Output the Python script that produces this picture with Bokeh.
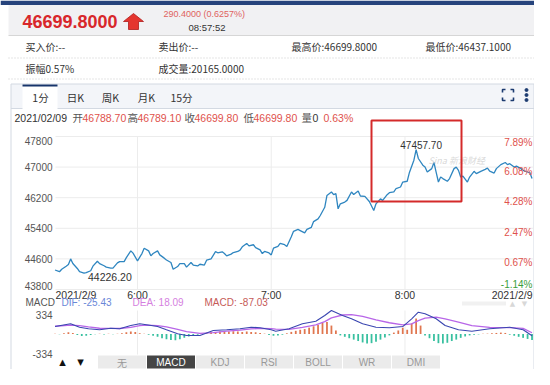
from bokeh.plotting import figure
from bokeh.models import Range1d, ColumnDataSource
from bokeh.core.properties import value
from bokeh.embed import file_html
from bokeh.resources import INLINE

# ---------------- data ----------------
price_times = ["5:23","5:25","5:26","5:28","5:29","5:30","5:31","5:33","5:34","5:36","5:37","5:39","5:40","5:42","5:43","5:45","5:46","5:48","5:49","5:51","5:52","5:54","5:55","5:57","5:58",
               "6:00","6:02","6:03","6:05","6:06","6:07","6:09","6:10","6:12","6:13","6:15","6:16","6:18","6:19","6:21","6:22","6:24","6:25","6:27","6:28","6:30","6:31","6:33","6:35","6:36","6:38","6:39","6:40","6:42","6:43","6:45","6:46","6:47","6:49","6:50","6:52","6:53","6:55","6:56","6:57","6:59",
               "7:00","7:01","7:03","7:04","7:06","7:07","7:09","7:10","7:12","7:13","7:15","7:16","7:18","7:19","7:21","7:22","7:24","7:25","7:27","7:28","7:29","7:30","7:31","7:33","7:34","7:36","7:37","7:39","7:40","7:42","7:44","7:46","7:47","7:49","7:50","7:52","7:53","7:55","7:56","7:58","7:59",
               "8:01","8:02","8:04","8:05","8:06","8:08","8:09","8:10","8:12","8:13","8:14","8:15","8:16","8:17","8:19","8:20","8:22","8:23","8:24","8:25","8:26","8:28","8:29","8:31","8:32","8:34","8:36","8:37","8:38","8:40","8:41","8:43","8:45","8:46","8:47","8:49","8:50","8:52","8:53","8:55","8:56","8:57"]
price_values = [44310,44265,44330,44410,44455,44600,44480,44350,44265,44226.2,44240,44290,44410,44540,44475,44420,44385,44360,44360,44495,44530,44530,44635,44810,44750,
                44550,44740,44880,44810,44680,44740,44810,44705,44620,44570,44505,44330,44400,44475,44475,44385,44505,44440,44415,44460,44440,44565,44600,44790,44760,44785,44740,44680,44725,44765,44795,44830,44915,45005,44940,44970,44895,44835,44740,44795,44755,
                44705,44880,44925,45005,44970,44925,45180,45320,45370,45340,45280,45370,45425,45575,45645,45735,45950,46260,46350,46280,46305,45910,46040,46085,46130,46350,46285,46375,46245,46235,46100,45865,46040,46170,46130,46280,46330,46350,46440,46480,46610,
                46630,46860,47180,47457.7,47225,47050,47000,46870,46960,47120,46860,46610,46740,46700,46630,46700,46960,47000,46915,46740,46765,46610,46740,46890,46830,46890,46940,46975,46895,46845,46960,47065,47120,47065,47090,47000,47025,46960,46915,46870,46860,46699.8]

price_ticks = [43800, 44600, 45400, 46200, 47000, 47800]
price_tick_labels = ["43800", "44600", "45400", "46200", "47000", "47800"]
pct_tick_labels = ["-1.14%", "0.67%", "2.47%", "4.28%", "6.08%", "7.89%"]
time_ticks = ["6:00", "7:00", "8:00"]
date_label = "2021/2/9"

line_times = ["5:23","5:30","5:34","5:38","5:43","5:48","5:52","5:57","6:01","6:04","6:09","6:13","6:18","6:22","6:28","6:34","6:40","6:46","6:51","6:55",
              "7:00","7:02","7:08","7:14","7:20","7:24","7:27","7:32","7:36","7:41","7:47","7:53","7:59","8:03","8:06","8:09","8:14","8:18","8:24","8:30","8:38","8:47","8:53","8:57"]
dif_values = [106,145,97,74,60,82,74,121,145,131,106,60,3,-21,-21,50,60,74,97,88,
              60,40,74,145,182,263,334,263,216,145,97,88,106,216,310,287,216,121,60,40,74,97,60,-25.43]
dea_values = [110,125,118,100,82,80,78,95,118,125,120,100,65,35,10,20,40,55,72,80,
              75,68,65,95,130,175,230,270,275,250,200,160,130,145,190,225,240,215,170,120,95,90,80,18.09]

hist_times = ["5:23","5:25","5:27","5:29","5:31","5:33","5:35","5:37","5:39","5:41","5:43","5:45","5:47","5:49","5:51","5:53","5:55","5:57","5:59",
              "6:01","6:03","6:05","6:07","6:09","6:11","6:13","6:15","6:17","6:19","6:21","6:23","6:25","6:27","6:29","6:31","6:33","6:35","6:37","6:39","6:41","6:43","6:45","6:47","6:49","6:51","6:53","6:55","6:57","6:59",
              "7:01","7:03","7:05","7:07","7:09","7:11","7:13","7:15","7:17","7:19","7:21","7:23","7:25","7:27","7:29","7:31","7:33","7:35","7:37","7:39","7:41","7:43","7:45","7:47","7:49","7:51","7:53","7:55","7:57","7:59",
              "8:01","8:03","8:05","8:07","8:09","8:11","8:13","8:15","8:17","8:19","8:21","8:23","8:25","8:27","8:29","8:31","8:33","8:35","8:37","8:39","8:41","8:43","8:45","8:47","8:49","8:51","8:53","8:55","8:57"]
hist_values = [5,-5,10,25,15,-15,-30,-25,-15,-5,5,-8,5,-5,5,10,25,35,30,
               10,5,-10,-25,-40,-60,-75,-85,-90,-75,-55,-35,-20,-10,5,10,25,30,35,30,35,40,35,30,35,30,25,15,5,-15,
               -25,-20,-10,10,30,45,60,70,90,110,130,160,170,120,50,-20,-40,-60,-80,-100,-120,-135,-130,-110,-80,-50,-20,20,50,90,
               60,150,220,120,-20,-60,-100,-130,-135,-125,-100,-80,-55,-35,-20,-10,-5,5,5,10,15,20,15,-10,-25,-40,-55,-70,-87.03]
macd_ticks = [-334, 334]
macd_tick_labels = ["-334", "334"]

# ---------------- layout (reference-pixel coordinates) ----------------
CJK = "Noto Sans CJK SC"
LAT = "Liberation Sans"
RED = "#e0524c"

def to_min(s):
    h, m = s.split(":")
    return int(h) * 60 + int(m)

PX_PER_MIN = 2.229          # horizontal scale of the time axis
X_SIX = 137.0               # pixel of 6:00
def t_at(px):
    return 360 + (px - X_SIX) / PX_PER_MIN

P_TOP_PX, P_BOT_PX = 136.0, 289.0   # pixels of 47800 / 43800
def price_at(py):
    return price_ticks[-1] - (py - P_TOP_PX) * (price_ticks[-1] - price_ticks[0]) / (P_BOT_PX - P_TOP_PX)

M_ZERO_PX, M_TOP_PX = 333.5, 310.0
def macd_at(py):
    return (M_ZERO_PX - py) * macd_ticks[1] / (M_ZERO_PX - M_TOP_PX)

X0, X1, Y0, Y1 = 0, 534, 0, 369
XR = 533.5   # right edge of the chart panel
p = figure(width=534, height=369, x_range=Range1d(X0, X1), y_range=Range1d(Y1, Y0),
           x_axis_location=None, y_axis_location=None, toolbar_location=None,
           output_backend="svg", min_border=0, outline_line_color=None,
           background_fill_color="white", border_fill_color="white")
p.extra_x_ranges = {"t": Range1d(t_at(X0), t_at(X1))}
p.extra_y_ranges = {"price": Range1d(price_at(Y1), price_at(Y0)),
                    "macd": Range1d(macd_at(Y1), macd_at(Y0))}
p.grid.visible = False

def T(x, y, s, size="10px", color="#333333", font=CJK, align="left", baseline="middle", style="normal", **kw):
    return p.text(x=[x], y=[y], text=[s], text_font=value(font), text_font_size=size,
                  text_color=color, text_align=align, text_baseline=baseline,
                  text_font_style=style, **kw)

# ---- header ----
p.quad(left=X0, right=X1, top=0, bottom=4.5, fill_color="#26437c", line_color=None)
p.quad(left=8, right=X1, top=4.5, bottom=35, fill_color="#f1f1f3", line_color=None)
p.segment(x0=8, x1=X1, y0=35, y1=35, line_color="#d6d6d6", line_width=1)
T(22, 21, "46699.8000", size="18px", color="#d8272b", font=LAT, style="bold")
p.patch(x=[133, 143, 138, 138, 128, 128, 123], y=[13, 21, 21, 29, 29, 21, 21],
        fill_color="#e5352f", line_color="#b01c1c", line_width=0.8)
T(163, 13.5, "290.4000 (0.6257%)", size="9px", color="#e0625e", font=LAT)
T(188, 26.5, "08:57:52", size="9.5px", color="#333333", font=LAT)

for x, s in [(25, "买入价:--"), (158, "卖出价:--"), (291, "最高价:46699.8000"), (425, "最低价:46437.1000")]:
    T(x, 46, s, size="10px")
for x, s in [(25, "振幅0.57%"), (158, "成交量:20165.0000")]:
    T(x, 68, s, size="10px")
p.segment(x0=[8, 8], x1=[X1, X1], y0=[57.5, 78.5], y1=[57.5, 78.5],
          line_color="#c9c9c9", line_dash="1 2", line_width=1)

# ---- chart panel frame & tab bar ----
p.quad(left=10.5, right=XR, top=83.5, bottom=108, fill_color="#f3f5f9", line_color=None)
p.segment(x0=[10.5, 10.5, XR, 10.5], x1=[XR, 10.5, XR, XR],
          y0=[83.5, 83.5, 83.5, 108], y1=[83.5, Y1, Y1, 108],
          line_color="#d3d9e2", line_width=1)
p.quad(left=22, right=57, top=84, bottom=108.5, fill_color="white", line_color=None)
p.segment(x0=22, x1=57, y0=85, y1=85, line_color="#17346b", line_width=2)
for x, s in [(40, "1分"), (75, "日K"), (110, "周K"), (146, "月K"), (181, "15分")]:
    T(x, 96.5, s, size="10.5px", color="#333333", align="center")
p.multi_line(xs=[[502, 502, 505], [510, 513, 513], [502, 502, 505], [510, 513, 513]],
             ys=[[92, 89, 89], [89, 89, 92], [97, 100, 100], [100, 100, 97]],
             line_color="#1c3b70", line_width=1.6)
p.scatter(x=[526, 526, 526], y=[89.5, 94.5, 99.5], size=3, color="#1c3b70")

# info line
info = [(14, "2021/02/09", "#333333", LAT), (72, "开", "#555555", CJK), (82, "46788.70", RED, LAT),
        (127, "高", "#555555", CJK), (137, "46789.10", RED, LAT), (184, "收", "#555555", CJK),
        (194, "46699.80", RED, LAT), (243, "低", "#555555", CJK), (253, "46699.80", RED, LAT),
        (301, "量", "#555555", CJK), (312, "0", "#333333", LAT), (323, "0.63%", RED, LAT)]
for x, s, c, f in info:
    T(x, 117, s, size="10.5px", color=c, font=f)

# ---- price panel ----
t_left, t_right = t_at(55), t_at(XR)
tmins = [to_min(s) for s in time_ticks]
p.segment(x0=t_left, x1=t_right, y0=price_ticks, y1=price_ticks,
          x_range_name="t", y_range_name="price", line_color="#ececec", line_width=1)
p.segment(x0=tmins, x1=tmins, y0=price_ticks[0], y1=price_ticks[-1],
          x_range_name="t", y_range_name="price", line_color="#ececec", line_width=1)

src = ColumnDataSource(dict(t=[to_min(s) for s in price_times], v=price_values))
p.line(x="t", y="v", source=src, x_range_name="t", y_range_name="price",
       line_color="#2f86c0", line_width=1.3)

# y tick labels (left) and percentages (right)
lab_kw = dict(text_font=value(LAT), text_font_size="10px", text_color="#555555", text_align="right")
p.text(x=52, y=price_ticks[1:-1], text=price_tick_labels[1:-1], text_baseline="middle", y_range_name="price", **lab_kw)
p.text(x=52, y=[price_ticks[-1]], text=[price_tick_labels[-1]], text_baseline="top", y_range_name="price", **lab_kw)
p.text(x=52, y=[price_ticks[0]], text=[price_tick_labels[0]], text_baseline="bottom", y_range_name="price", **lab_kw)
pct_kw = dict(text_font=value(LAT), text_font_size="10px", text_align="right")
XP = 532
p.text(x=XP, y=price_ticks[1:-1], text=pct_tick_labels[1:-1], text_baseline="middle", y_offset=4,
       text_color=RED, y_range_name="price", **pct_kw)
p.text(x=XP, y=[price_ticks[-1]], text=[pct_tick_labels[-1]], text_baseline="top",
       text_color=RED, y_range_name="price", **pct_kw)
p.text(x=XP, y=[price_ticks[0]], text=[pct_tick_labels[0]], text_baseline="bottom",
       text_color="#3a9e3a", y_range_name="price", **pct_kw)

# x tick labels
p.text(x=tmins, y=294.5, text=time_ticks, x_range_name="t", text_font=value(LAT),
       text_font_size="10.5px", text_color="#333333", text_align="center", text_baseline="middle")
T(t_at(55), 294.5, date_label, size="10.5px", font=LAT, x_range_name="t")
T(XP, 294.5, date_label, size="10.5px", font=LAT, align="right")

# max / min annotations
imax = max(range(len(price_values)), key=lambda i: price_values[i])
imin = min(range(len(price_values)), key=lambda i: price_values[i])
p.text(x=[to_min(price_times[imax])], y=[price_values[imax]], text=["%.2f" % price_values[imax]],
       x_range_name="t", y_range_name="price", text_font=value(LAT), text_font_size="10px",
       text_color="#333333", text_align="center", text_baseline="bottom", x_offset=5, y_offset=-1)
p.text(x=[to_min(price_times[imin])], y=[price_values[imin]], text=["%.2f" % price_values[imin]],
       x_range_name="t", y_range_name="price", text_font=value(LAT), text_font_size="10.5px",
       text_color="#333333", text_align="left", text_baseline="top", x_offset=4, y_offset=0)

# watermark and highlight box
T(428, 160, "Sina 新浪财经", size="9px", color="#cfcfcf", style="italic", text_alpha=0.8)
p.quad(left=371, right=461, top=120, bottom=201, fill_color=None, line_color="#d42a2a", line_width=2)

# ---- MACD panel ----
T(25, 302, "MACD", size="10px", color="#555555", font=LAT)
T(61, 302, "DIF: -25.43", size="10px", color="#6a87d8", font=LAT)
T(132, 302, "DEA: 18.09", size="10px", color="#d57fe0", font=LAT)
T(204, 302, "MACD: -87.03", size="10px", color="#c65a58", font=LAT)
p.segment(x0=tmins, x1=tmins, y0=macd_ticks[0], y1=macd_ticks[1],
          x_range_name="t", y_range_name="macd", line_color="#ececec", line_width=1)
p.text(x=52, y=[macd_ticks[1]], text=[macd_tick_labels[1]], text_baseline="top", y_range_name="macd", **lab_kw)
p.text(x=52, y=[macd_ticks[0]], text=[macd_tick_labels[0]], text_baseline="bottom", y_range_name="macd", **lab_kw)

hsrc = ColumnDataSource(dict(t=[to_min(s) for s in hist_times], v=hist_values,
                             c=["#e0764f" if v >= 0 else "#38c0a0" for v in hist_values]))
p.vbar(x="t", top="v", bottom=0, width=0.8, source=hsrc, fill_color="c", line_color=None,
       x_range_name="t", y_range_name="macd")
lsrc = ColumnDataSource(dict(t=[to_min(s) for s in line_times], dif=dif_values, dea=dea_values))
p.line(x="t", y="dea", source=lsrc, x_range_name="t", y_range_name="macd", line_color="#b866e8", line_width=1.3)
p.line(x="t", y="dif", source=lsrc, x_range_name="t", y_range_name="macd", line_color="#3a46b0", line_width=1.1)

# scroll widget (faint)
p.segment(x0=462, x1=506, y0=303, y1=303, line_color="#e2e2e2", line_width=4, line_dash="1 1")
T(512, 303, "▲", size="7px", color="#d8d8d8", font="DejaVu Sans", align="center")
T(524, 303, "▼", size="7px", color="#d8d8d8", font="DejaVu Sans", align="center")

# ---- indicator tab bar (kept inside the 369 px canvas) ----
TAB_TOP, TAB_BOT, TAB_MID = 354.5, 368.5, 361.5
T(62, TAB_MID, "▲", size="8.5px", color="#111111", font="DejaVu Sans", align="center")
T(80, TAB_MID, "▼", size="8.5px", color="#111111", font="DejaVu Sans", align="center")
tabs = ["无", "MACD", "KDJ", "RSI", "BOLL", "WR", "DMI"]
lefts = [97 + 49 * i for i in range(len(tabs))]
p.quad(left=lefts, right=[l + 49 for l in lefts], top=TAB_TOP, bottom=TAB_BOT,
       fill_color=["#454545" if s == "MACD" else "#ebebeb" for s in tabs], line_color="white", line_width=1)
for l, s in zip(lefts, tabs):
    T(l + 24.5, TAB_MID, s, size="10px", color="white" if s == "MACD" else "#999999", align="center",
      font=CJK if s == "无" else LAT)

open("out.html", "w").write(file_html(p, INLINE))
